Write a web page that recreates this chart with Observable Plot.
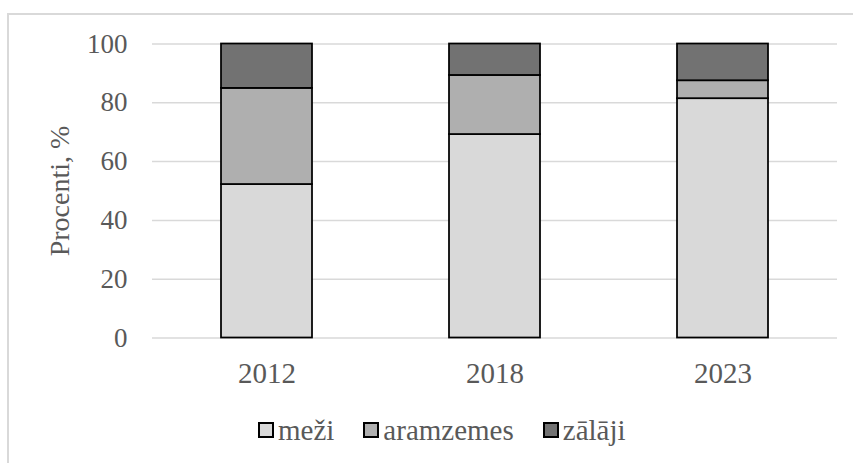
<!DOCTYPE html>
<html>
<head>
<meta charset="utf-8">
<script src="https://cdn.jsdelivr.net/npm/d3@7"></script>
<script src="https://cdn.jsdelivr.net/npm/@observablehq/plot@0.6"></script>
<style>
  html, body { margin: 0; padding: 0; background: #fff; }
  #wrap { position: relative; width: 853px; height: 463px; overflow: hidden; font-family: "Liberation Serif", "Times New Roman", serif; }
  #frame { position: absolute; left: 7px; top: 13px; width: 860px; height: 470px; border-left: 2px solid #d9d9d9; border-top: 2px solid #d9d9d9; box-sizing: border-box; }
  #chart { position: absolute; left: 0; top: 0; }
  #legend { position: absolute; top: 414px; left: 258px; display: flex; font-size: 29px; line-height: 32px; height: 32px; color: #595959; }
  .item { display: flex; align-items: center; margin-right: 29px; }
  .sw { width: 16px; height: 16px; border: 2px solid #000; box-sizing: border-box; margin-right: 4px; }
</style>
</head>
<body>
<div id="wrap">
  <div id="frame"></div>
  <div id="chart"></div>
  <div id="legend"></div>
</div>
<script>
const years = ["2012", "2018", "2023"];
const series = ["meži", "aramzemes", "zālāji"];
const mezi = [52.2, 69.2, 81.4];
const aramzemes = [32.7, 20.1, 6.1];
const zalaji = [15.1, 10.7, 12.5];
const colors = ["#d9d9d9", "#afafaf", "#727272"];
const yTicks = [0, 20, 40, 60, 80, 100];

const valuesBySeries = [mezi, aramzemes, zalaji];
const data = [];
series.forEach((s, si) => {
  years.forEach((yr, i) => data.push({year: yr, series: s, value: valuesBySeries[si][i]}));
});

const font = "'Liberation Serif', 'Times New Roman', serif";
const chart = Plot.plot({
  width: 853,
  height: 400,
  marginLeft: 152,
  marginRight: 16,
  marginTop: 43.5,
  marginBottom: 62.5,
  style: {fontFamily: font, background: "transparent", color: "#595959"},
  x: {domain: years, paddingInner: 0.6, paddingOuter: 0.3, label: null},
  y: {domain: [0, 100], label: null},
  color: {domain: series, range: colors},
  marks: [
    Plot.gridY(yTicks, {stroke: "#d9d9d9", strokeOpacity: 1, strokeWidth: 1.5}),
    Plot.barY(data, {x: "year", y: "value", fill: "series", stroke: "#000", strokeWidth: 1.75}),
    Plot.axisY(yTicks, {tickSize: 0, tickPadding: 25, fontSize: 27, fill: "#595959", label: null}),
    Plot.axisX({tickSize: 0, tickPadding: 24, fontSize: 29, fill: "#595959", label: null}),
    Plot.text(["Procenti, %"], {frameAnchor: "left", dx: -92, rotate: -90, fill: "#595959", fontSize: 28, textAnchor: "middle"})
  ]
});
document.getElementById("chart").appendChild(chart);

const legend = document.getElementById("legend");
series.forEach((s, i) => {
  const item = document.createElement("div");
  item.className = "item";
  const sw = document.createElement("div");
  sw.className = "sw";
  sw.style.background = colors[i];
  const t = document.createElement("span");
  t.textContent = s;
  item.appendChild(sw);
  item.appendChild(t);
  legend.appendChild(item);
});
</script>
</body>
</html>
